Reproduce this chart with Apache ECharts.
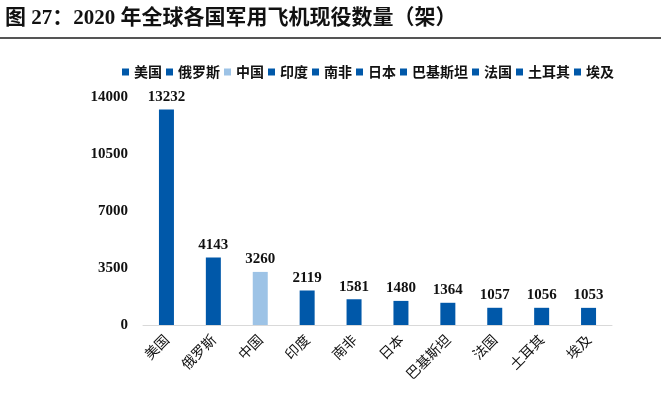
<!DOCTYPE html>
<html>
<head>
<meta charset="utf-8">
<script src="https://cdn.jsdelivr.net/npm/echarts@6/dist/echarts.min.js"></script>
<style>
html,body{margin:0;padding:0;background:#fff;}
#main{width:661px;height:394px;}
</style>
</head>
<body>
<div id="main"></div>
<script>
var titleText = '图 27：2020 年全球各国军用飞机现役数量（架）';
var categories = ['美国','俄罗斯','中国','印度','南非','日本','巴基斯坦','法国','土耳其','埃及'];
var values = [13232, 4143, 3260, 2119, 1581, 1480, 1364, 1057, 1056, 1053];
var colors = ['#0058A9','#0058A9','#9DC3E6','#0058A9','#0058A9','#0058A9','#0058A9','#0058A9','#0058A9','#0058A9'];
var yTicks = [0, 3500, 7000, 10500, 14000];

var serif = '"Times New Roman","Liberation Serif","Noto Sans CJK SC",serif';
var cjk = '"Noto Sans CJK SC",sans-serif';

var series = categories.map(function(name, i){
  var d = categories.map(function(_, j){ return j === i ? values[i] : '-'; });
  return {
    name: name,
    type: 'bar',
    stack: 'all',
    barWidth: 15,
    data: d,
    itemStyle: {color: colors[i]},
    label: {
      show: true, position: 'top', distance: 5,
      fontFamily: serif, fontWeight: 'bold', fontSize: 15, color: '#111'
    },
    emphasis: {disabled: true}
  };
});

var chart = echarts.init(document.getElementById('main'), null, {renderer:'canvas'});
chart.setOption({
  animation: false,
  backgroundColor: '#fff',
  graphic: [
    {type:'text', left: 5, top: 8, style:{text: titleText, font: 'bold 21px ' + serif, fill:'#111'}},
    {type:'rect', shape:{x:0, y:37, width:661, height:2}, style:{fill:'#555'}}
  ],
  legend: {
    data: categories,
    left: 117, top: 60,
    itemWidth: 7, itemHeight: 7, itemGap: 4,
    icon: 'rect',
    textStyle: {fontFamily: cjk, fontSize: 14, fontWeight: 'bold', color: '#111', padding: [0,0,0,0]}
  },
  grid: {left: 143, right: 49, top: 97, bottom: 69, containLabel: false},
  xAxis: {
    type: 'category',
    data: categories,
    axisLine: {lineStyle: {color: '#D9D9D9', width: 1}},
    axisTick: {show: false},
    axisLabel: {rotate: 45, fontFamily: cjk, fontSize: 14, color: '#111', margin: 12, interval: 0}
  },
  yAxis: {
    type: 'value',
    min: yTicks[0], max: yTicks[yTicks.length-1], interval: 3500,
    axisLine: {show: false}, axisTick: {show: false},
    splitLine: {show: false},
    axisLabel: {fontFamily: serif, fontWeight: 'bold', fontSize: 15, color: '#111', margin: 15,
      formatter: function(v){ return String(v); }}
  },
  series: series
});
</script>
</body>
</html>
